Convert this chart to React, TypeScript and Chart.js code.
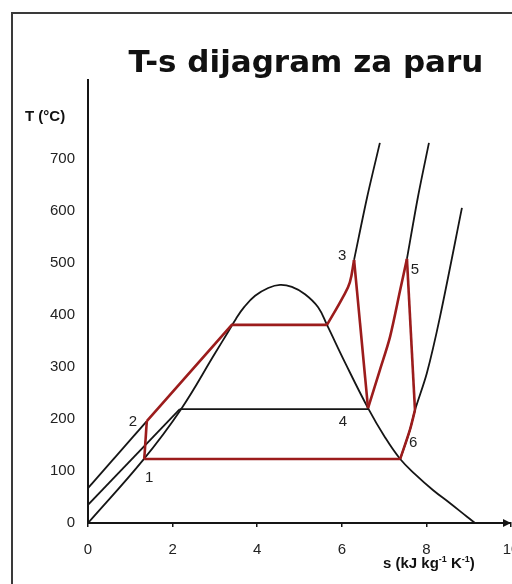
import React, { useEffect, useRef } from 'react';
import { Chart, registerables } from 'chart.js';

Chart.register(...registerables);

// ---- text ----
const TITLE = 'T-s dijagram za paru';
const Y_TITLE = 'T (°C)';
const X_TITLE_PARTS: [string, boolean][] = [
  ['s (kJ kg', false],
  ['-1', true],
  [' K', false],
  ['-1', true],
  [')', false],
];

// ---- axis ticks ----
const xTickStep = 2;
const yTickStep = 100;
const yTickMaxLabel = 700;

// ---- saturation dome (s in kJ/kgK, T in °C) ----
const domeS = [0, 1.3, 2.2, 3.0, 3.3, 3.5, 3.7, 3.95, 4.26, 4.54, 4.82, 5.13, 5.44, 5.65, 6.08, 6.62, 7.02, 7.38, 7.73, 8.16, 8.56, 8.96, 9.15];
const domeT = [0, 121, 219, 326, 366, 393, 416, 437, 452, 458, 454, 440, 415, 381, 308, 221, 165, 123, 94, 63, 38, 12, 0];

// ---- compressed-liquid isobars ----
const liquidHighS = [0, 1.39];
const liquidHighT = [67, 196];
const liquidMidS = [0, 2.17];
const liquidMidT = [35, 219];

// ---- mid-pressure two-phase line ----
const midWetS = [2.17, 6.62];
const midWetT = [219, 219];

// ---- superheated isobars ----
const superHighS = [6.29, 6.6, 6.9];
const superHighT = [506, 627, 731];
const superMidS = [7.54, 7.8, 8.06];
const superMidT = [508, 627, 731];
const superLowS = [7.38, 7.61, 7.73, 8.01, 8.32, 8.84];
const superLowT = [123, 179, 217, 288, 396, 606];

// ---- Rankine cycle with reheat (red) ----
const pumpS = [1.33, 1.39];
const pumpT = [123, 196];
const heatS = [1.39, 3.4, 5.65];
const heatT = [196, 381, 381];
const superheatS = [5.65, 6.03, 6.19, 6.29];
const superheatT = [381, 435, 463, 506];
const expand1S = [6.29, 6.62];
const expand1T = [506, 221];
const reheatS = [6.62, 6.9, 7.14, 7.38, 7.54];
const reheatT = [221, 294, 358, 448, 508];
const expand2S = [7.54, 7.73];
const expand2T = [508, 217];
const toSixS = [7.73, 7.61, 7.38];
const toSixT = [217, 179, 123];
const condenseS = [7.38, 1.33];
const condenseT = [123, 123];

// ---- state point labels ----
const stateLabels = ['1', '2', '3', '4', '5', '6'];
const stateS = [1.33, 1.39, 6.29, 6.62, 7.54, 7.38];
const stateT = [123, 196, 506, 221, 508, 123];

const pts = (xs: number[], ys: number[]) => xs.map((x, i) => ({ x, y: ys[i] }));

const RED = '#9c1c1c';
const BLACK = '#151515';
const SANS = '"Liberation Sans", Arial, sans-serif';

const labelOffsets: [number, number][] = [
  [5, 19],
  [-14, 1],
  [-12, -4],
  [-25, 14],
  [8, 11],
  [13, -16],
];

const textPlugin = {
  id: 'tsText',
  afterDraw(chart: any) {
    const { ctx, chartArea, scales } = chart;
    const xs = scales.x;
    const ys = scales.y;
    ctx.save();
    ctx.fillStyle = '#111';

    // title
    ctx.font = 'bold 31px "DejaVu Sans", sans-serif';
    ctx.textAlign = 'center';
    ctx.textBaseline = 'alphabetic';
    ctx.fillText(TITLE, 306, 72);

    // y title
    ctx.font = `bold 15px ${SANS}`;
    ctx.textAlign = 'left';
    ctx.fillText(Y_TITLE, 25, 121);

    // x title
    let x = 383;
    const base = 568;
    for (const [t, sup] of X_TITLE_PARTS) {
      ctx.font = sup ? `bold 9px ${SANS}` : `bold 15px ${SANS}`;
      ctx.fillText(t, x, sup ? base - 6 : base);
      x += ctx.measureText(t).width;
    }

    // arrow at end of x-axis
    const yA = chartArea.bottom;
    const xA = chartArea.right;
    ctx.fillStyle = BLACK;
    ctx.beginPath();
    ctx.moveTo(xA - 8, yA - 4);
    ctx.lineTo(xA, yA);
    ctx.lineTo(xA - 8, yA + 4);
    ctx.closePath();
    ctx.fill();

    // state labels
    ctx.fillStyle = '#222';
    ctx.font = `15px ${SANS}`;
    ctx.textAlign = 'center';
    ctx.textBaseline = 'middle';
    stateLabels.forEach((lab, i) => {
      const px = xs.getPixelForValue(stateS[i]) + labelOffsets[i][0];
      const py = ys.getPixelForValue(stateT[i]) + labelOffsets[i][1];
      ctx.fillText(lab, px, py);
    });
    ctx.restore();
  },
};

function line(data: { x: number; y: number }[], color: string, width: number, tension = 0) {
  return {
    data,
    borderColor: color,
    backgroundColor: color,
    borderWidth: width,
    showLine: true,
    pointRadius: 0,
    pointHoverRadius: 0,
    tension,
    fill: false,
  };
}

export default function App() {
  const ref = useRef<HTMLCanvasElement>(null);

  useEffect(() => {
    if (!ref.current) return;
    const chart = new Chart(ref.current, {
      type: 'scatter',
      data: {
        datasets: [
          line(pts(pumpS, pumpT), RED, 2.6),
          line(pts(heatS, heatT), RED, 2.6),
          line(pts(superheatS, superheatT), RED, 2.6, 0.4),
          line(pts(expand1S, expand1T), RED, 2.6),
          line(pts(reheatS, reheatT), RED, 2.6, 0.3),
          line(pts(expand2S, expand2T), RED, 2.6),
          line(pts(toSixS, toSixT), RED, 2.6, 0.3),
          line(pts(condenseS, condenseT), RED, 2.6),
          line(pts(domeS, domeT), BLACK, 1.8, 0.4),
          line(pts(liquidHighS, liquidHighT), BLACK, 1.8),
          line(pts(liquidMidS, liquidMidT), BLACK, 1.8),
          line(pts(midWetS, midWetT), BLACK, 1.8),
          line(pts(superHighS, superHighT), BLACK, 1.8, 0.3),
          line(pts(superMidS, superMidT), BLACK, 1.8, 0.3),
          line(pts(superLowS, superLowT), BLACK, 1.8, 0.3),
        ] as any,
      },
      options: {
        animation: false,
        responsive: false,
        events: [],
        layout: { padding: { top: 80, right: 1, left: 0, bottom: 0 }, autoPadding: false } as any,
        plugins: {
          legend: { display: false },
          tooltip: { enabled: false },
          title: { display: false },
        },
        scales: {
          x: {
            type: 'linear',
            min: 0,
            max: 10,
            afterFit: (s: any) => {
              s.height = 61;
              s.paddingLeft = 0;
              s.paddingRight = 0;
            },
            ticks: {
              stepSize: xTickStep,
              padding: 14,
              color: '#222',
              maxRotation: 0,
              font: { family: SANS, size: 15 },
            },
            grid: {
              display: true,
              drawOnChartArea: false,
              drawTicks: true,
              tickLength: 4,
              color: BLACK,
              lineWidth: 1.5,
            },
            border: { display: true, color: BLACK, width: 2 },
          },
          y: {
            type: 'linear',
            min: 0,
            max: 852,
            afterFit: (s: any) => {
              s.width = 88;
              s.paddingTop = 0;
              s.paddingBottom = 0;
            },
            afterBuildTicks: (s: any) => {
              s.ticks = s.ticks.filter((t: any) => t.value <= yTickMaxLabel && t.value % yTickStep === 0);
            },
            ticks: {
              stepSize: yTickStep,
              padding: 13,
              color: '#222',
              font: { family: SANS, size: 15 },
            },
            grid: { display: false, drawTicks: false },
            border: { display: true, color: BLACK, width: 2 },
          },
        },
      } as any,
      plugins: [textPlugin],
    });
    return () => chart.destroy();
  }, []);

  return (
    <div style={{ position: 'fixed', left: 0, top: 0, width: 512, height: 584, overflow: 'hidden', background: '#fff' }}>
      <div
        style={{
          position: 'absolute',
          left: 11,
          top: 12,
          width: 540,
          height: 620,
          borderLeft: '2px solid #3a3a3a',
          borderTop: '2px solid #3a3a3a',
        }}
      />
      <canvas ref={ref} width={512} height={584} style={{ position: 'absolute', left: 0, top: 0 }} />
    </div>
  );
}
